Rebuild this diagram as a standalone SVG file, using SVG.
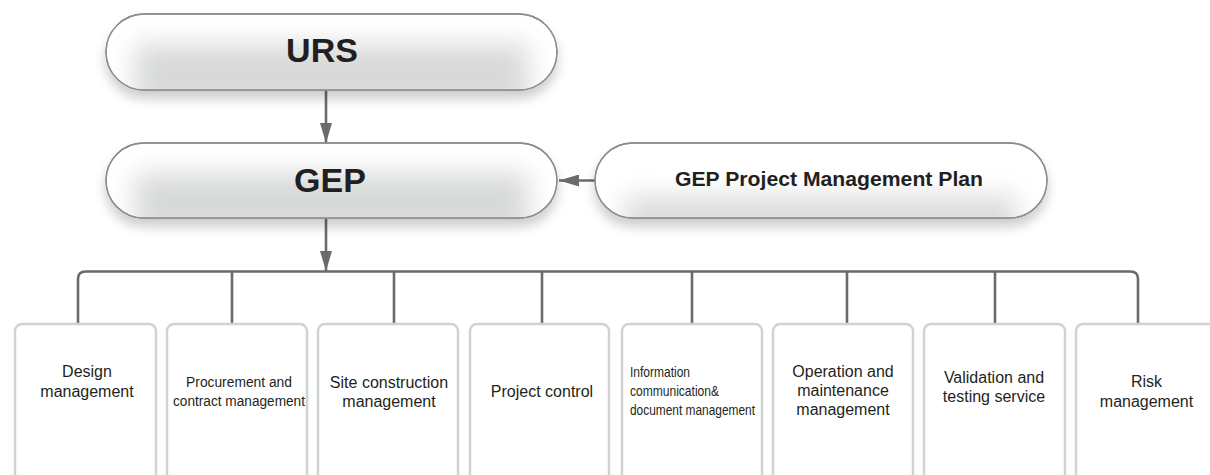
<svg xmlns="http://www.w3.org/2000/svg" width="1210" height="475" viewBox="0 0 1210 475">
<style>
.pill{fill:#ffffff;stroke:#8c8c8c;stroke-width:1.3}
.pillb{fill:none;stroke:#8c8c8c;stroke-width:1.3}
.box{fill:#ffffff;stroke:#cfd3d3;stroke-width:2.5}
.big{font-family:"Liberation Sans",Arial,sans-serif;font-weight:bold;font-size:34px;fill:#231f20;text-anchor:middle}
.mid{font-family:"Liberation Sans",Arial,sans-serif;font-weight:bold;font-size:20.5px;fill:#231f20;text-anchor:middle}
.lbl{font-family:"Liberation Sans",Arial,sans-serif;font-size:16px;fill:#231f20;text-anchor:middle}
.sm{font-family:"Liberation Sans",Arial,sans-serif;font-size:13.8px;fill:#231f20;text-anchor:middle}
.xs{font-family:"Liberation Sans",Arial,sans-serif;font-size:15px;fill:#231f20}
.con{fill:none;stroke:#6b6b6b;stroke-width:2.6}
</style>
<defs>
<filter id="shadow" x="-10%" y="-30%" width="120%" height="180%">
<feGaussianBlur in="SourceAlpha" stdDeviation="6"/>
<feOffset dy="8"/>
<feComponentTransfer><feFuncA type="linear" slope="0.2"/></feComponentTransfer>
<feMerge><feMergeNode/><feMergeNode in="SourceGraphic"/></feMerge>
</filter>
<filter id="soft" x="-20%" y="-60%" width="140%" height="220%">
<feGaussianBlur stdDeviation="13"/>
</filter>
<clipPath id="cU"><rect x="106" y="14" width="451" height="76" rx="38"/></clipPath>
<clipPath id="cG"><rect x="106" y="143" width="451" height="75" rx="37.5"/></clipPath>
<clipPath id="cP"><rect x="595" y="143" width="452" height="75" rx="37.5"/></clipPath>
<marker id="arr" viewBox="0 0 20 12" refX="20" refY="6" markerWidth="20" markerHeight="12" markerUnits="userSpaceOnUse" orient="auto">
<path d="M0,0 L20,6 L0,12 Z" fill="#6b6b6b"/>
</marker>
</defs>

<g id="connectors">
<line class="con" x1="326" y1="90" x2="326" y2="143" marker-end="url(#arr)"/>
<line class="con" x1="616" y1="180.5" x2="559" y2="180.5" marker-end="url(#arr)"/>
<line class="con" x1="326" y1="218" x2="326" y2="271" marker-end="url(#arr)"/>
<path class="con" d="M78,323 V279 Q78,271.5 85.5,271.5 H1130.5 Q1138,271.5 1138,279 V323"/>
<path class="con" d="M232,271.5 V323 M394,271.5 V323 M542,271.5 V323 M692,271.5 V323 M847,271.5 V323 M995,271.5 V323"/>
</g>

<g id="node-urs">
<rect class="pill" x="106" y="14" width="451" height="76" rx="38" filter="url(#shadow)"/>
<g clip-path="url(#cU)"><rect x="135" y="44" width="393" height="66" fill="#d8d9d9" filter="url(#soft)"/></g>
<rect class="pillb" x="106" y="14" width="451" height="76" rx="38"/>
<text class="big" x="322" y="62">URS</text>
</g>

<g id="node-gep">
<rect class="pill" x="106" y="143" width="451" height="75" rx="37.5" filter="url(#shadow)"/>
<g clip-path="url(#cG)"><rect x="135" y="173" width="393" height="66" fill="#d8d9d9" filter="url(#soft)"/></g>
<rect class="pillb" x="106" y="143" width="451" height="75" rx="37.5"/>
<text class="big" x="330" y="192">GEP</text>
</g>

<g id="node-plan">
<rect class="pill" x="595" y="143" width="452" height="75" rx="37.5" filter="url(#shadow)"/>
<g clip-path="url(#cP)"><rect x="625" y="196" width="392" height="44" fill="#dadbdb" filter="url(#soft)"/></g>
<rect class="pillb" x="595" y="143" width="452" height="75" rx="37.5"/>
<text class="mid" x="829" y="186" textLength="308" lengthAdjust="spacingAndGlyphs">GEP Project Management Plan</text>
</g>

<g id="node-design">
<rect class="box" x="15" y="324" width="141" height="200" rx="7"/>
<text class="lbl" x="87" y="377">Design</text>
<text class="lbl" x="87" y="396.5">management</text>
</g>

<g id="node-procurement">
<rect class="box" x="167" y="324" width="140" height="200" rx="7"/>
<text class="sm" x="239" y="387">Procurement and</text>
<text class="sm" x="239" y="406" textLength="132" lengthAdjust="spacingAndGlyphs">contract management</text>
</g>

<g id="node-site">
<rect class="box" x="318" y="324" width="140" height="200" rx="7"/>
<text class="lbl" x="389" y="388">Site construction</text>
<text class="lbl" x="389" y="407">management</text>
</g>

<g id="node-control">
<rect class="box" x="470" y="324" width="139" height="200" rx="7"/>
<text class="lbl" x="542" y="397">Project control</text>
</g>

<g id="node-info">
<rect class="box" x="622" y="324" width="140" height="200" rx="7"/>
<text class="xs" x="630" y="377" textLength="60" lengthAdjust="spacingAndGlyphs">Information</text>
<text class="xs" x="630" y="396" textLength="89" lengthAdjust="spacingAndGlyphs">communication&amp;</text>
<text class="xs" x="630" y="415" textLength="125" lengthAdjust="spacingAndGlyphs">document management</text>
</g>

<g id="node-operation">
<rect class="box" x="773" y="324" width="140" height="200" rx="7"/>
<text class="lbl" x="843" y="377">Operation and</text>
<text class="lbl" x="843" y="396">maintenance</text>
<text class="lbl" x="843" y="415">management</text>
</g>

<g id="node-validation">
<rect class="box" x="924" y="324" width="141" height="200" rx="7"/>
<text class="lbl" x="994" y="383">Validation and</text>
<text class="lbl" x="994" y="402">testing service</text>
</g>

<g id="node-risk">
<rect class="box" x="1076" y="324" width="141" height="200" rx="7"/>
<text class="lbl" x="1146.5" y="387">Risk</text>
<text class="lbl" x="1146.5" y="406.5">management</text>
</g>
</svg>
